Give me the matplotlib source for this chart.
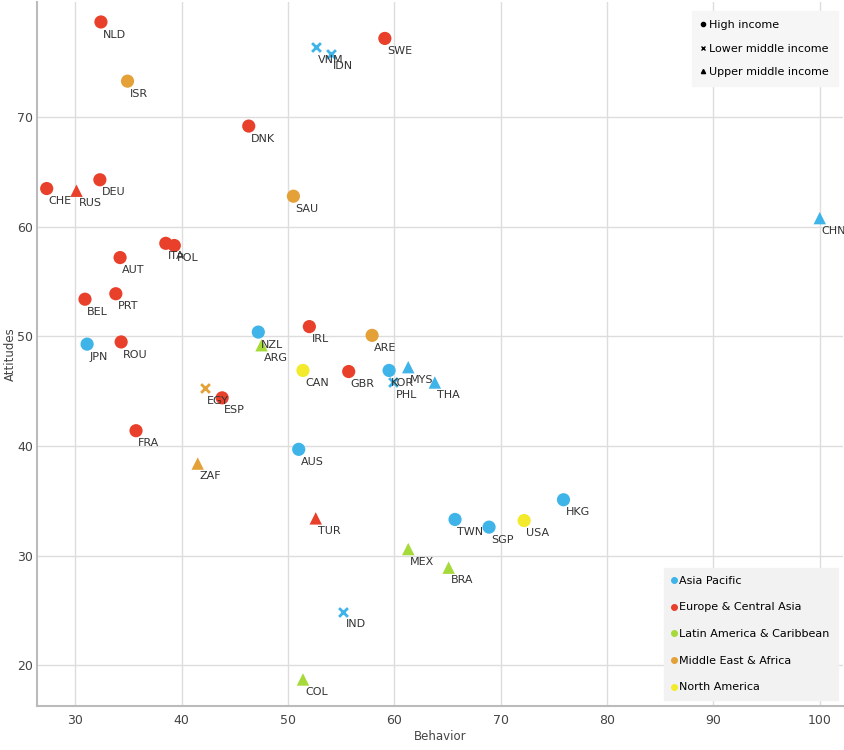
import matplotlib
matplotlib.use("Agg")
import matplotlib.pyplot as plt
from matplotlib.lines import Line2D

countries = ["NLD","SWE","VNM","IDN","ISR","DNK","CHE","RUS","DEU","SAU","CHN","ITA","POL","AUT",
             "BEL","PRT","NZL","ARG","IRL","ARE","JPN","ROU","CAN","GBR","KOR","PHL","MYS","THA",
             "EGY","ESP","FRA","AUS","ZAF","HKG","TWN","SGP","USA","TUR","MEX","BRA","IND","COL"]
behavior = [32.4,59.1,52.6,54.0,34.9,46.3,27.3,30.1,32.3,50.5,100.0,38.5,39.3,34.2,
            30.9,33.8,47.2,47.5,52.0,57.9,31.1,34.3,51.4,55.7,59.5,59.9,61.3,63.8,
            42.2,43.8,35.7,51.0,41.5,75.9,65.7,68.9,72.2,52.6,61.3,65.1,55.2,51.4]
attitudes = [78.7,77.2,76.4,75.8,73.3,69.2,63.5,63.3,64.3,62.8,60.8,58.5,58.3,57.2,
             53.4,53.9,50.4,49.2,50.9,50.1,49.3,49.5,46.9,46.8,46.9,45.8,47.2,45.8,
             45.3,44.4,41.4,39.7,38.4,35.1,33.3,32.6,33.2,33.4,30.6,28.9,24.9,18.7]
region = ["EU","EU","AP","AP","ME","EU","EU","EU","EU","ME","AP","EU","EU","EU",
          "EU","EU","AP","LA","EU","ME","AP","EU","NA","EU","AP","AP","AP","AP",
          "ME","EU","EU","AP","ME","AP","AP","AP","NA","EU","LA","LA","AP","LA"]
income = ["H","H","L","L","H","H","H","U","H","H","U","H","H","H",
          "H","H","H","U","H","H","H","H","H","H","H","L","U","U",
          "L","H","H","H","U","H","H","H","H","U","U","U","L","U"]

region_names = ["Asia Pacific","Europe & Central Asia","Latin America & Caribbean",
                "Middle East & Africa","North America"]
region_keys = ["AP","EU","LA","ME","NA"]
region_colors = {"AP":"#3fb4e8","EU":"#e8402a","LA":"#a6d93a","ME":"#e3a138","NA":"#f2ea2a"}
income_names = ["High income","Lower middle income","Upper middle income"]
income_keys = ["H","L","U"]
income_markers = {"H":"o","L":"x","U":"^"}

plt.rcParams['font.family'] = ['DejaVu Sans']
fig = plt.figure(figsize=(8.44,7.5), dpi=100)
ax = fig.add_axes([0.044, 0.059, 0.955, 0.938])
ax.set_xlim(26.4, 102.2)
ax.set_ylim(16.3, 80.5)
ax.set_xticks([30,40,50,60,70,80,90,100])
ax.set_yticks([20,30,40,50,60,70])
ax.grid(True, color="#dddddd", lw=1)
ax.set_axisbelow(True)
for s in ["top","right"]:
    ax.spines[s].set_visible(False)
for s in ["left","bottom"]:
    ax.spines[s].set_color("#bbbbbb")
    ax.spines[s].set_linewidth(1.5)
ax.tick_params(axis="x", length=0, labelsize=9, colors="#444444", pad=6)
ax.tick_params(axis="y", length=0, labelsize=9, colors="#444444", pad=3)
ax.set_xlabel("Behavior", fontsize=8.5, color="#444444", labelpad=2)
ax.set_ylabel("Attitudes", fontsize=8.5, color="#444444")
ax.yaxis.set_label_coords(-0.025, 0.5)

for c, bx, at, r, inc in zip(countries, behavior, attitudes, region, income):
    m = income_markers[inc]
    if m == "x":
        ax.scatter(bx, at, marker="x", s=40, color=region_colors[r], linewidths=2, zorder=3)
    else:
        ax.scatter(bx, at, marker=m, s=90 if m == "o" else 80, color=region_colors[r],
                   edgecolors="none", zorder=3)
    ax.annotate(c, (bx, at), xytext=(1.5, -5.5), textcoords="offset points",
                ha="left", va="top", fontsize=8, color="#333333", zorder=4)

h1 = [Line2D([], [], marker=income_markers[k], color="black", ls="none", markersize=3,
             markeredgewidth=1) for k in income_keys]
leg1 = ax.legend(h1, income_names, loc="upper right", fontsize=8, frameon=True,
                 handlelength=0.4, handletextpad=0.3, borderpad=0.8, labelspacing=1.2,
                 bbox_to_anchor=(1.0, 0.995), fancybox=False)
leg1.get_frame().set_facecolor("#f6f6f6")
leg1.get_frame().set_edgecolor("#f6f6f6")
leg1.get_frame().set_alpha(1)
ax.add_artist(leg1)
h2 = [Line2D([], [], marker="o", color=region_colors[k], ls="none", markersize=4)
      for k in region_keys]
leg2 = ax.legend(h2, region_names, loc="lower right", fontsize=8, frameon=True,
                 handlelength=0.4, handletextpad=0.3, borderpad=0.7, labelspacing=1.5,
                 bbox_to_anchor=(1.0, 0.0), fancybox=False)
leg2.get_frame().set_facecolor("#f2f2f2")
leg2.get_frame().set_edgecolor("#f2f2f2")
leg2.get_frame().set_alpha(1)

fig.savefig("out.png", dpi=100)
